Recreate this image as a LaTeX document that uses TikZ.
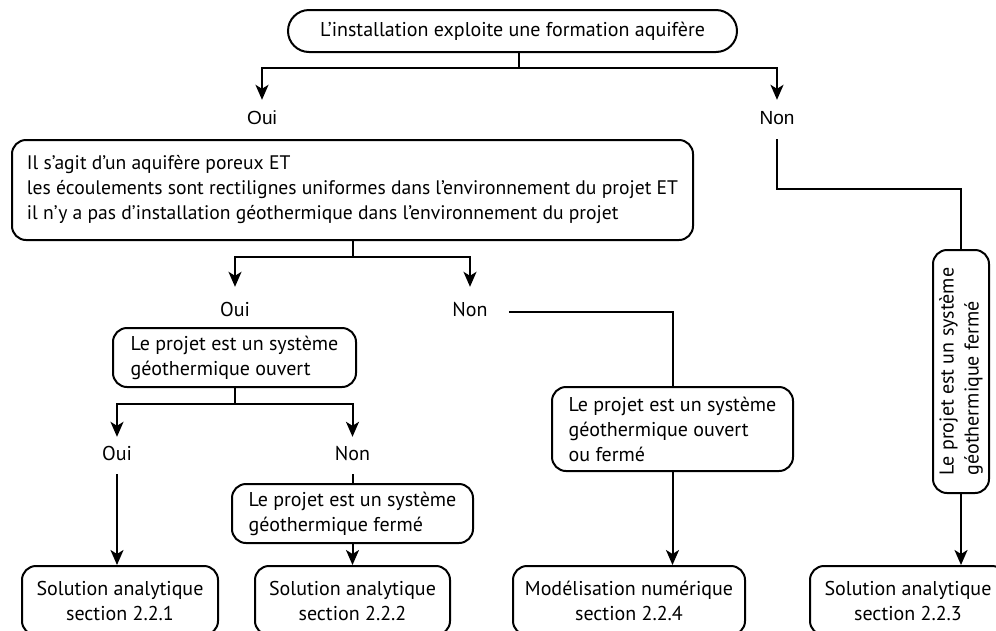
\documentclass[tikz,border=0pt]{standalone}
\usepackage{fontspec}
\setmainfont{PT Sans}
\newfontfamily\arialf{Liberation Sans}
\usetikzlibrary{arrows.meta}
\begin{document}
\begin{tikzpicture}[x=1pt,y=-1pt,
  box/.style={draw, line width=2pt, rounded corners=14pt, inner sep=0pt, font=\fontsize{20}{25}\selectfont},
  conn/.style={line width=2pt},
  arr/.style={conn, -{Stealth[length=15pt,width=13pt,inset=4pt]}},
  lbl/.style={font=\fontsize{20}{25}\selectfont, text height=12pt, text depth=3pt, inner xsep=2pt, anchor=base},
  albl/.style={lbl, font=\arialf\fontsize{19}{25}\selectfont},
  ]
\clip (0,0) rectangle (996,630);
% nodes
\node[box, rounded corners=21pt, minimum width=449pt, minimum height=42pt] (top) at (512.5,31) {L’installation exploite une formation aquifère};
\node[albl, inner ysep=12pt] (ouiA) at (262,124) {Oui};
\node[albl, inner ysep=12pt] (nonA) at (777,124) {Non};
\node[box, minimum width=681pt, minimum height=100pt, align=left, inner xsep=5pt, font=\fontsize{19.6}{25}\selectfont] (big) at (352.5,190) {Il s’agit d’un aquifère poreux ET\\les écoulements sont rectilignes uniformes dans l’environnement du projet ET\\il n’y a pas d’installation géothermique dans l’environnement du projet};
\node[lbl, inner ysep=17pt] (ouiB) at (235,316) {Oui};
\node[lbl, inner ysep=17pt, inner xsep=21pt] (nonB) at (470,316) {Non};
\node[box, minimum width=243pt, minimum height=59pt, align=left] (ouv) at (234.5,357.5) {Le projet est un système\\géothermique ouvert};
\node[lbl, inner ysep=11pt] (ouiC) at (117,460) {Oui};
\node[lbl, inner ysep=11pt] (nonC) at (352.5,460) {Non};
\node[box, minimum width=241pt, minimum height=59pt, align=left] (fer) at (352.5,513.5) {Le projet est un système\\géothermique fermé};
\node[box, minimum width=241pt, minimum height=84pt, align=left] (of) at (672.5,429) {Le projet est un système\\géothermique ouvert\\ou fermé};
\node[box, rotate=90, minimum width=243pt, minimum height=56pt, align=left] (rot) at (961,371.5) {Le projet est un système\\géothermique fermé};
\node[box, minimum width=196pt, minimum height=69pt, align=center] (s1) at (120,600.5) {Solution analytique\\section 2.2.1};
\node[box, minimum width=195pt, minimum height=69pt, align=center] (s2) at (352.5,600.5) {Solution analytique\\section 2.2.2};
\node[box, minimum width=232pt, minimum height=69pt, align=center] (num) at (629,600.5) {Modélisation numérique\\section 2.2.4};
\node[box, minimum width=196pt, minimum height=69pt, align=center] (s3) at (908,600.5) {Solution analytique\\section 2.2.3};
% connectors
\coordinate (j1) at (519,68);
\draw[conn] (top.south -| j1) -- (j1);
\draw[arr] (j1) -| (ouiA.north);
\draw[arr] (j1) -| (nonA.north);
\draw[conn] (nonA.south) -- ++(0,50) -| (rot.east);
\coordinate (j2) at (352.5,257);
\draw[conn] (big.south) -- (j2);
\draw[arr] (j2) -| (ouiB.north);
\draw[arr] (j2) -| (nonB.north);
\draw[conn] (nonB.east) -| (of.north);
\coordinate (j3) at (234.5,404);
\draw[conn] (ouv.south) -- (j3);
\draw[arr] (j3) -| (ouiC.north);
\draw[arr] (j3) -| (nonC.north);
\draw[arr] (ouiC.south) -- (ouiC.south |- s1.north);
\draw[conn] (nonC.south) -- (fer.north);
\draw[arr] (fer.south) -- (s2.north);
\draw[arr] (of.south) -- (of.south |- num.north);
\draw[arr] (rot.west) -- (rot.west |- s3.north);
\end{tikzpicture}
\end{document}
